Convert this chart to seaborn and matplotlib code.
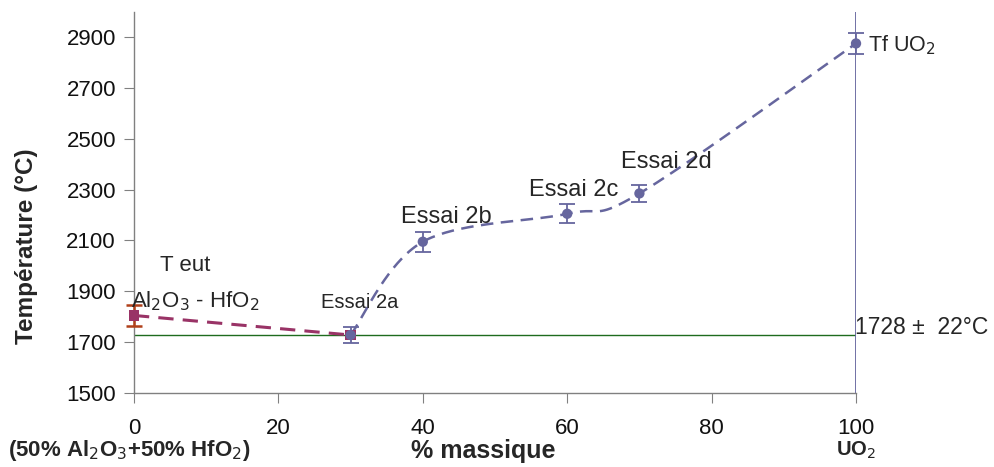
import numpy as np
import matplotlib
matplotlib.use("Agg")
import matplotlib.pyplot as plt
import seaborn as sns

# eutectic Al2O3-HfO2 branch
eut_x = [0, 30]
eut_t = [1805, 1728]
eut_err = [40, 0]

# test points (Essai 2a..2d, Tf UO2)
essai_x = [30, 40, 60, 70, 100]
essai_t = [1728, 2095, 2205, 2285, 2875]
essai_err = [30, 40, 38, 35, 40]

t_eut = 1728
xticks = [0, 20, 40, 60, 80, 100]
yticks = [1500, 1700, 1900, 2100, 2300, 2500, 2700, 2900]

BLUE = "#66669E"
MAROON = "#993366"
FONT = ["Liberation Sans", "DejaVu Sans"]


def smooth(ax, xs, ys, n=40):
    """Catmull-Rom curve in display space, like Excel's smoothed line"""
    pts = ax.transData.transform(np.column_stack([xs, ys]))
    p = np.vstack([pts[0], pts, pts[-1]])
    out = []
    for i in range(1, len(p) - 2):
        p0, p1, p2, p3 = p[i - 1], p[i], p[i + 1], p[i + 2]
        t = np.linspace(0, 1, n)[:, None]
        c = 0.5 * ((2 * p1) + (-p0 + p2) * t + (2 * p0 - 5 * p1 + 4 * p2 - p3) * t ** 2
                   + (-p0 + 3 * p1 - 3 * p2 + p3) * t ** 3)
        out.append(c)
    out = np.vstack(out)
    return ax.transData.inverted().transform(out).T


sns.set_style("white")
plt.rcParams["font.family"] = FONT

fig = plt.figure(figsize=(9.94, 4.67), dpi=100)
ax = fig.add_axes([0.1348, 0.1585, 0.7264, 0.8165])
ax.set_xlim(0, 100)
ax.set_ylim(1500, 3000)

ax.axhline(t_eut, color="#1E6B1E", lw=1.0, zorder=1)
ax.axvline(100, color=BLUE, lw=1.3, zorder=1)

cx, cy = smooth(ax, essai_x, essai_t)
ax.plot(cx, cy, color=BLUE, lw=1.8, dashes=(5, 3), zorder=2)
ax.plot(eut_x, eut_t, color=MAROON, lw=2.2, dashes=(5, 3), zorder=2)

ax.errorbar(eut_x[:1], eut_t[:1], yerr=eut_err[:1], fmt="none", ecolor="#B0401A",
            elinewidth=1.8, capsize=6, capthick=1.8, zorder=3, clip_on=False)
ax.errorbar(essai_x, essai_t, yerr=essai_err, fmt="none", ecolor=BLUE,
            elinewidth=1.3, capsize=6, capthick=1.3, zorder=3, clip_on=False)
sns.scatterplot(x=eut_x, y=eut_t, marker="s", color=MAROON, s=60, edgecolor="none",
                ax=ax, zorder=4, clip_on=False)
sns.scatterplot(x=essai_x, y=essai_t, marker="o", color=BLUE, s=55, edgecolor="none",
                ax=ax, zorder=5, clip_on=False)

for s in ["top", "right"]:
    ax.spines[s].set_visible(False)
for s in ["left", "bottom"]:
    ax.spines[s].set_color("#808080")
    ax.spines[s].set_linewidth(1.0)

ax.set_xticks(xticks)
ax.set_yticks(yticks)
ax.tick_params(axis="both", direction="out", length=7, color="#808080", labelsize=16,
               labelcolor="#111111", left=True, bottom=True)
ax.tick_params(axis="y", pad=6)
ax.tick_params(axis="x", pad=11)
ax.set_ylabel("Température (°C)", fontsize=17.5, fontweight="bold")
ax.yaxis.set_label_coords(-0.133, 0.386)

ax.text(7.1, 2003, "T eut", fontsize=16, ha="center", va="center")
ax.text(-0.4, 1860, r"Al$_2$O$_3$ - HfO$_2$", fontsize=16, ha="left", va="center")
ax.text(31.2, 1854, "Essai 2a", fontsize=14.5, ha="center", va="center")
ax.text(43.2, 2192, "Essai 2b", fontsize=17, ha="center", va="center")
ax.text(60.9, 2298, "Essai 2c", fontsize=17, ha="center", va="center")
ax.text(73.7, 2408, "Essai 2d", fontsize=17, ha="center", va="center")
ax.text(101.7, 2868, r"Tf UO$_2$", fontsize=15.5, ha="left", va="center")
ax.text(99.9, 1756, "1728 ±  22°C", fontsize=16.5, ha="left", va="center")

fig.text(0.008, 0.035, r"(50% Al$_2$O$_3$+50% HfO$_2$)", fontsize=16, fontweight="bold",
         ha="left", va="center")
fig.text(0.486, 0.035, "% massique", fontsize=18, fontweight="bold", ha="center", va="center")
fig.text(0.861, 0.035, r"UO$_2$", fontsize=14.5, fontweight="bold", ha="center", va="center")

fig.savefig("out.png", dpi=100)
